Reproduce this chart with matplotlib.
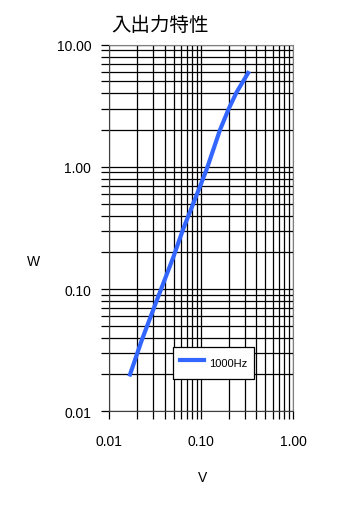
import matplotlib
matplotlib.use('Agg')

import matplotlib.pyplot as plt
from matplotlib.ticker import LogLocator, FuncFormatter, NullFormatter

# Data (V in volts, W in watts)
volts = [0.0168, 0.0225, 0.0327, 0.0497, 0.0637, 0.097, 0.115, 0.16, 0.2, 0.243, 0.324]
watts = [0.020, 0.038, 0.080, 0.182, 0.31, 0.69, 0.96, 2.0, 3.0, 4.08, 5.86]
series_label = '1000Hz'
title_text = '入出力特性'

plt.rcParams['font.family'] = ['Liberation Sans', 'DejaVu Sans']

fig = plt.figure(figsize=(3.59, 5.10), dpi=100)
fig.patch.set_facecolor('white')
ax = fig.add_axes([0.3045, 0.1916, 0.5117, 0.7188])

ax.plot(volts, watts, color='#3366ff', linewidth=3.0, label=series_label, zorder=3)

ax.set_xscale('log')
ax.set_yscale('log')
ax.set_xlim(0.01, 1.0)
ax.set_ylim(0.01, 10.0)

ax.xaxis.set_major_locator(LogLocator(base=10))
ax.yaxis.set_major_locator(LogLocator(base=10))
ax.xaxis.set_minor_locator(LogLocator(base=10, subs=range(2, 10)))
ax.yaxis.set_minor_locator(LogLocator(base=10, subs=range(2, 10)))
fmt = FuncFormatter(lambda v, pos: '%.2f' % v)
ax.xaxis.set_major_formatter(fmt)
ax.yaxis.set_major_formatter(fmt)
ax.xaxis.set_minor_formatter(NullFormatter())
ax.yaxis.set_minor_formatter(NullFormatter())

ax.grid(True, which='both', color='black', linewidth=0.9)
ax.set_axisbelow(True)

ax.tick_params(axis='both', which='both', direction='out', length=6,
               width=0.9, color='black', labelsize=10)
ax.tick_params(axis='y', which='major', pad=7)
ax.tick_params(axis='x', which='major', pad=10)

for side in ['top', 'right']:
    ax.spines[side].set_color('#808080')
for side in ['left', 'bottom']:
    ax.spines[side].set_color('#404040')

leg = ax.legend(loc='center', bbox_to_anchor=(0.567, 0.132), fontsize=8,
                frameon=True, fancybox=False, framealpha=1.0,
                edgecolor='black', borderpad=0.6, handlelength=2.2,
                handleheight=2.1, handletextpad=0.4)
leg.get_frame().set_linewidth(0.9)

fig.text(0.446, 0.950, title_text, family=['Noto Sans CJK JP', 'DejaVu Sans'],
         fontsize=14, ha='center', va='center')
fig.text(0.092, 0.486, 'W', fontsize=10, ha='center', va='center')
fig.text(0.563, 0.063, 'V', fontsize=10, ha='center', va='center')

fig.savefig('out.png', dpi=100)
plt.close(fig)
